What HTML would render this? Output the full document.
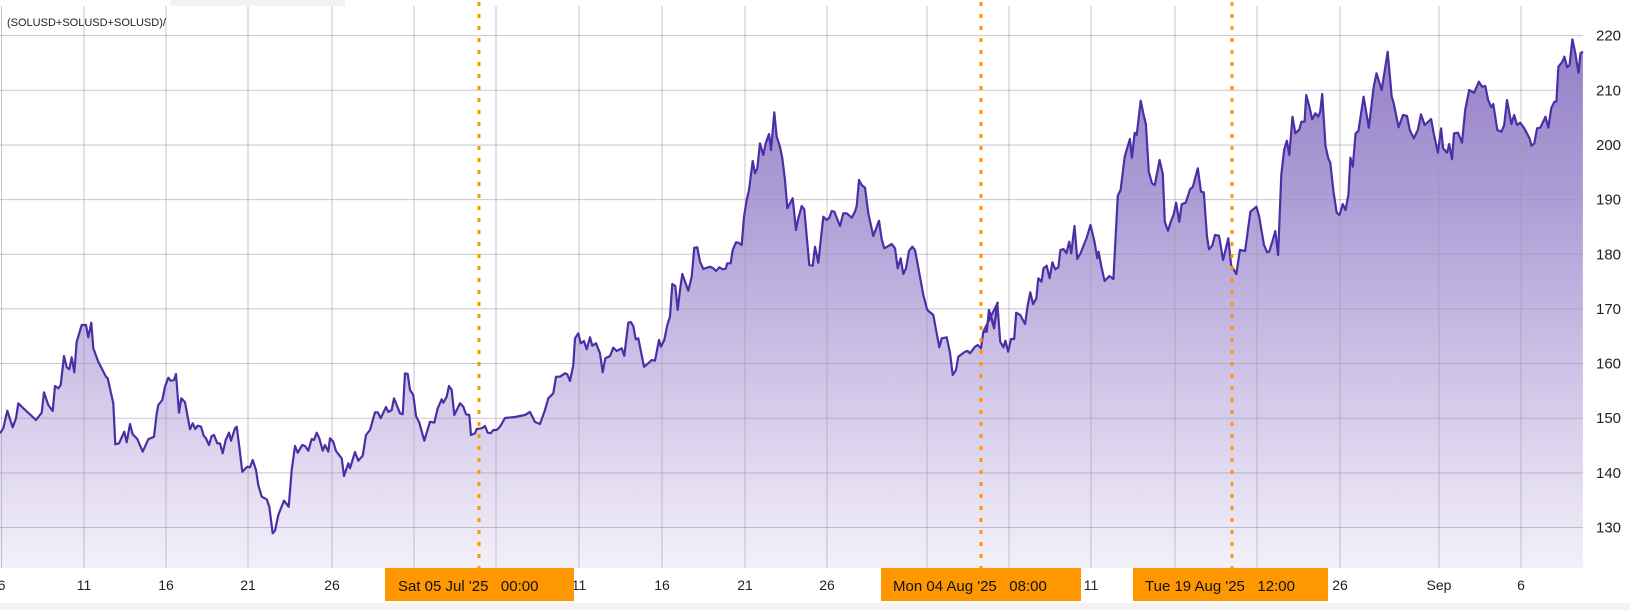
<!DOCTYPE html>
<html><head><meta charset="utf-8"><style>
html,body{margin:0;padding:0;background:#fff;width:1630px;height:610px;overflow:hidden;font-family:"Liberation Sans","DejaVu Sans",sans-serif;}
svg{display:block}
text{white-space:pre}
</style></head><body>
<svg id="c" width="1630" height="610" xmlns="http://www.w3.org/2000/svg">
<defs><linearGradient id="g" x1="0" y1="0" x2="0" y2="568" gradientUnits="userSpaceOnUse">
<stop offset="0" stop-color="#8f79c4"/><stop offset="0.35" stop-color="#ad9dd6"/><stop offset="0.7" stop-color="#d3c9e9"/><stop offset="1" stop-color="#f3f0f9"/></linearGradient></defs>
<rect x="170" y="0" width="175" height="6" fill="#f2f2f2"/>
<g id="area"></g>
<g id="grid" stroke="#9a96a6" stroke-opacity="0.55" stroke-width="1"></g>
<g id="line"></g>
<g id="ylab" font-size="15" fill="#222"></g>
<rect x="0" y="603" width="1630" height="7" fill="#f3f3f3"/>
<g id="xlab" font-size="14" fill="#222"></g>
<text x="7" y="26" font-size="11" fill="#222">(SOLUSD+SOLUSD+SOLUSD)/</text>
<g stroke="#ff9800" stroke-width="3" stroke-dasharray="4,8">
<line x1="479" y1="2" x2="479" y2="568"/><line x1="981" y1="2" x2="981" y2="568"/><line x1="1232" y1="2" x2="1232" y2="568"/></g>
<g font-size="15" fill="#111">
<rect x="385" y="568" width="189" height="33" fill="#ff9800"/><text x="398" y="591" xml:space="preserve">Sat 05 Jul '25   00:00</text>
<rect x="881" y="568" width="200" height="33" fill="#ff9800"/><text x="893" y="591" xml:space="preserve">Mon 04 Aug '25   08:00</text>
<rect x="1133" y="568" width="195" height="33" fill="#ff9800"/><text x="1145" y="591" xml:space="preserve">Tue 19 Aug '25   12:00</text>
</g>
</svg>
<script>
var NS="http://www.w3.org/2000/svg";
function el(t,a,p){var e=document.createElementNS(NS,t);for(var k in a)e.setAttribute(k,a[k]);p.appendChild(e);return e;}
var z7=[0,460,10,445,22,392,38,442,48,415,55,370,65,380,108,420,125,398,132,337,145,375,158,393,165,318,175,325,182,315,192,228,200,262,208,268,215,232,223,277,230,185,245,135,258,135,265,172,274,128,280,205,295,245,318,290,323,295,340,370,346,493,357,490,373,455,380,487,390,432,398,463,412,477,428,515,445,478,462,470,470,400,475,375,487,360,495,320,505,293,512,302,522,300,528,282,537,398,544,355,555,367,570,448,578,430,586,447,593,437,603,440,611,467,618,475,627,495,635,468,642,465,652,490,660,490,668,520,677,480,687,458,693,482,705,445,710,440,718,500,727,575,742,560,750,562,758,540,768,570,775,615,785,650,800,658,808,680,818,760,825,752,835,705,852,662,866,680,875,570,885,498,893,518,907,495,915,498,925,512,935,477,942,480,950,458,958,475,968,512,975,495,985,515,990,475,1000,485,1008,513,1025,535,1032,588,1045,550,1050,565,1065,516,1075,542,1088,527,1098,465,1110,450,1125,397,1133,397,1142,415,1158,381,1165,396,1175,390,1182,355,1200,400,1208,403,1215,280,1223,282,1230,330,1240,345,1248,408,1258,428,1273,482,1290,425,1303,428,1313,385,1325,358,1330,368,1340,350,1347,318,1355,330,1363,405,1380,370,1390,380,1398,403,1408,405,1413,465,1425,460,1430,447,1445,445,1455,438,1463,458,1472,460,1480,450,1490,450,1500,440];
var mid=[505,418,515,417,525,415,530,412,535,422,540,424,545,410];
var z8=[205,955,220,940,228,890,240,890,255,880,262,883,270,903,280,855,285,775,295,760,302,790,312,783,320,808,330,772,337,797,348,790,360,820,368,877,376,835,390,828,400,803,410,813,425,805,433,827,445,728,452,726,460,738,467,778,475,775,492,860,505,850,515,840,525,842,537,780,543,800,553,780,562,735,570,710,577,612,586,618,593,690,600,630,607,582,625,632,635,590,643,503,652,502,660,545,670,567,690,560,700,565,708,573,718,562,728,568,737,566,742,550,752,550,758,510,768,487,775,488,785,495,792,410,800,360,807,330,818,243,825,280,832,265,840,190,850,225,857,190,867,162,873,210,883,97,890,170,900,200,907,235,915,300,922,385,938,355,948,450,955,415,965,378,973,388,988,555,998,557,1005,500,1015,548,1030,410,1040,420,1048,413,1055,393,1063,395,1080,438,1090,400,1100,400,1115,413,1125,395,1130,378,1137,300,1145,315,1155,323,1165,400,1180,468,1197,422,1205,478,1213,505,1222,500,1235,492,1245,505,1253,565,1262,535,1270,582,1278,565,1287,513,1297,500,1305,510,1320,590,1330,645,1342,690,1360,705,1370,760,1378,802,1385,775,1400,772,1410,818,1418,885,1428,870,1435,830,1455,815,1463,813,1470,820,1485,800,1493,795,1503,805,1510,755,1520,755,1527,690,1543,740,1553,668];
var z9=[58,935,67,933,72,870,85,925,93,848,100,965,108,982,113,962,120,995,127,957,135,957,140,878,150,885,162,912,168,860,175,817,182,853,190,835,195,775,203,785,208,745,216,737,223,775,230,727,237,748,245,742,250,690,258,687,265,700,272,665,277,700,285,618,292,717,300,700,315,655,325,615,335,665,342,715,345,695,352,740,360,783,372,768,382,777,393,527,400,510,410,410,423,357,428,413,435,338,440,345,450,242,457,283,463,313,470,455,478,490,485,495,497,420,505,462,510,605,518,632,525,605,532,583,538,548,546,605,552,553,562,548,573,508,580,500,592,445,600,515,607,517,615,650,620,688,628,677,635,645,645,647,655,720,668,655,675,735,688,762,697,690,710,693,723,575,738,560,745,590,757,675,765,697,770,695,777,668,785,633,792,705,800,465,807,390,814,362,820,405,828,290,835,340,845,328,850,305,858,305,862,225,870,260,877,298,885,280,892,290,897,275,902,222,910,378,917,415,922,428,930,515,938,578,945,585,953,552,960,570,967,525,972,413,978,440,985,340,992,333,1005,230,1018,323,1030,200,1037,160,1050,210,1065,95,1075,230,1080,250,1092,322,1103,285,1113,288,1120,330,1130,355,1140,330,1148,283,1157,315,1173,297,1180,343,1190,398,1198,325,1203,385,1213,398,1218,372,1225,418,1230,340,1240,338,1250,368,1258,270,1268,210,1280,218,1292,185,1300,200,1308,198,1315,240,1323,262,1328,252,1338,330,1348,335,1355,315,1362,240,1373,312,1380,285,1387,315,1395,308,1405,325,1418,355,1423,377,1430,370,1437,325,1445,323,1458,290,1465,323,1472,265,1480,245,1485,245,1490,140,1500,125,1505,110,1512,142,1518,135,1525,58,1532,100,1540,158,1545,100,1551,95];
var pts=[];
for(var i=0;i<z7.length;i+=2)pts.push([z7[i]/3,280+z7[i+1]/3]);
for(i=0;i<mid.length;i+=2)pts.push([mid[i],mid[i+1]]);
for(i=0;i<z8.length;i+=2)pts.push([480+z8[i]/3,80+z8[i+1]/3]);
for(i=0;i<z9.length;i+=2)pts.push([960+z9[i]/2.49,20+z9[i+1]/3]);
var d=pts.map(function(p,i){return (i?"L":"M")+p[0].toFixed(1)+" "+p[1].toFixed(1);}).join("");
el("path",{d:d+"L"+pts[pts.length-1][0].toFixed(1)+" 568L0 568Z",fill:"url(#g)"},document.getElementById("area"));
el("path",{d:d,fill:"none",stroke:"#4b2fa6","stroke-width":"2.2","stroke-linejoin":"round"},document.getElementById("line"));
var G=document.getElementById("grid"),Y=document.getElementById("ylab"),X=document.getElementById("xlab");
for(var v=130;v<=220;v+=10){var y=527.5-(v-130)*5.465;el("line",{x1:0,x2:1583,y1:y,y2:y},G);var t=el("text",{x:1596,y:y+5},Y);t.textContent=v;}
var xs=[1.5,84,166,248,332,414,496,579,662,745,827,927,1009,1091,1175,1257,1340,1439,1521];
xs.forEach(function(x){el("line",{x1:x,x2:x,y1:6,y2:568},G);});
var labs=[[1.5,"6"],[84,"11"],[166,"16"],[248,"21"],[332,"26"],[579,"11"],[662,"16"],[745,"21"],[827,"26"],[1091,"11"],[1340,"26"],[1439,"Sep"],[1521,"6"]];
labs.forEach(function(l){var t=el("text",{x:l[0],y:590,"text-anchor":"middle"},X);t.textContent=l[1];});
</script>
</body></html>
